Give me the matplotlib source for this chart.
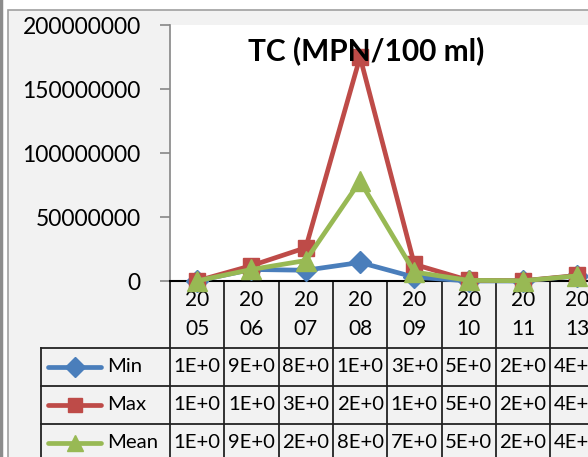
import matplotlib
matplotlib.use("Agg")
import matplotlib.pyplot as plt
from matplotlib.patches import Rectangle

plt.rcParams["font.family"] = ["Lato", "DejaVu Sans"]

years = ["2005", "2006", "2007", "2008", "2009", "2010", "2011", "2013"]
min_vals = [1.2e5, 9.0e6, 8.4e6, 1.45e7, 3.0e6, 5.0e4, 2.0e4, 4.0e6]
max_vals = [1.0e5, 1.2e7, 2.6e7, 1.75e8, 1.3e7, 5.0e5, 2.0e5, 4.3e6]
mean_vals = [1.1e5, 9.0e6, 1.6e7, 7.8e7, 7.0e6, 5.0e5, 2.0e5, 4.0e6]

series = [
    ("Min", min_vals, "#4a7ebb", "D", 11.5),
    ("Max", max_vals, "#be4b48", "s", 12),
    ("Mean", mean_vals, "#98b954", "^", 14),
]

W, H = 588, 457
fig = plt.figure(figsize=(W / 100, H / 100), dpi=100, facecolor="white")

# overlay in pixel coordinates for frame + data table
ov = fig.add_axes([0, 0, 1, 1], zorder=0)
ov.set_xlim(0, W)
ov.set_ylim(H, 0)
ov.axis("off")
ov.add_patch(Rectangle((8, 10), W, H, facecolor="#f2f2f2", edgecolor="#a0a0a0", lw=1.2))
ov.plot([1, 1], [0, H], color="#8c8c8c", lw=2.5)

x0, y0, y_top = 170, 281, 25
n = len(years)
cw = 434.4 / n

ax = fig.add_axes([x0 / W, (H - y0) / H, cw * n / W, (y0 - y_top) / H], zorder=1)
ax.set_facecolor("white")
xs = list(range(n))
for name, vals, color, mk, ms in series:
    ax.plot(xs, vals, color=color, lw=3.4, marker=mk, markersize=ms,
            clip_on=False, zorder=3)
ax.set_xlim(-0.5, n - 0.5)
ax.set_ylim(0, 2e8)
ax.set_yticks([0, 5e7, 1e8, 1.5e8, 2e8])
ax.set_yticklabels(["0", "50000000", "100000000", "150000000", "200000000"], fontsize=16.5)
ax.tick_params(axis="y", length=7, width=1.2, color="#868686", pad=14)
ax.set_xticks([])
for s in ["top", "right"]:
    ax.spines[s].set_visible(False)
ax.spines["left"].set_color("#868686")
ax.spines["left"].set_linewidth(1.2)
ax.spines["bottom"].set_color("black")
ax.spines["bottom"].set_linewidth(1.5)

fig.text(366 / W, 1 - 51 / H, "TC (MPN/100 ml)", fontsize=21.5, fontweight="bold",
         ha="center", va="center")

# data table
row_h = 38
cat_bot = 348
tbl_left = 41
tbl_bot = cat_bot + row_h * 3
lc = "#222222"
for i in range(n + 1):
    x = x0 + i * cw
    ov.plot([x, x], [y0, tbl_bot], color=lc, lw=1.3)
ov.plot([tbl_left, tbl_left], [cat_bot, tbl_bot], color=lc, lw=1.3)
for r in range(3):
    y = cat_bot + r * row_h
    ov.plot([tbl_left, W], [y, y], color=lc, lw=1.3)

for i, yr in enumerate(years):
    cx = x0 + (i + 0.5) * cw
    ov.text(cx, 300, yr[:2], ha="center", va="center", fontsize=15)
    ov.text(cx, 329, yr[2:], ha="center", va="center", fontsize=15)

for r, (name, vals, color, mk, ms) in enumerate(series):
    cy = cat_bot + (r + 0.5) * row_h
    ov.plot([48, 101], [cy, cy], color=color, lw=3.4, solid_capstyle="round")
    ov.plot([74.5], [cy], color=color, marker=mk, markersize=ms * 0.85)
    ov.text(107, cy, name, ha="left", va="center", fontsize=14.6)
    for i, v in enumerate(vals):
        cx = x0 + (i + 0.5) * cw
        ov.text(cx, cy, f"{v:.0E}"[:4], ha="center", va="center", fontsize=14.6)

fig.savefig("out.png", dpi=100)
